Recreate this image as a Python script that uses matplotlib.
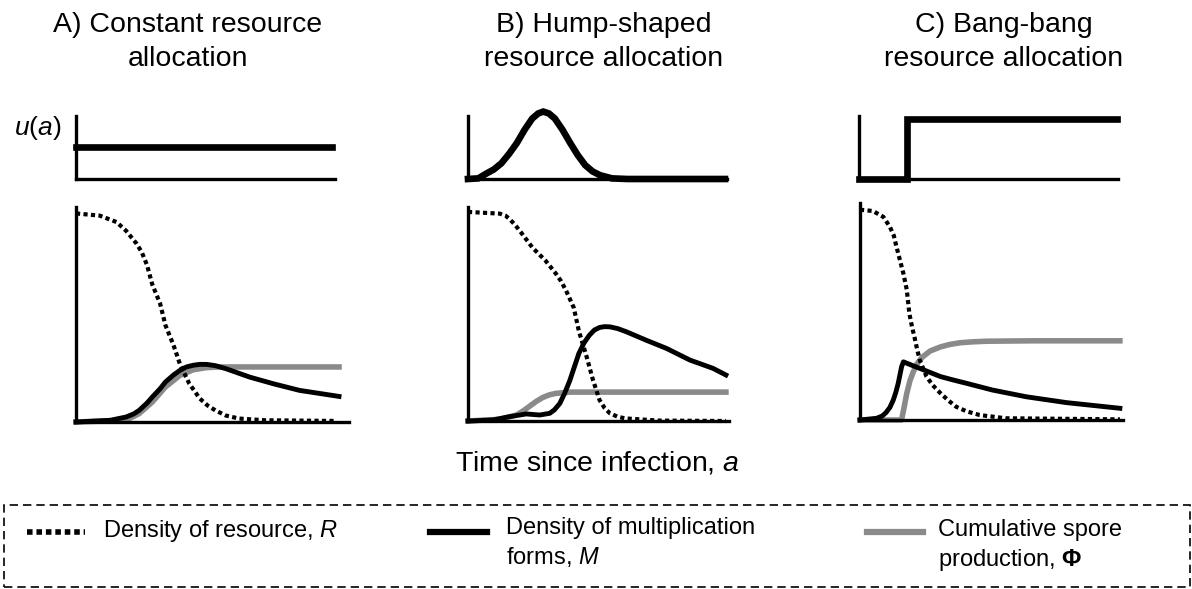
import matplotlib
matplotlib.use('Agg')
import matplotlib.pyplot as plt
from matplotlib.patches import Rectangle
from matplotlib.lines import Line2D

plt.rcParams['font.family'] = ['Liberation Sans', 'DejaVu Sans']
plt.rcParams['mathtext.fontset'] = 'custom'
plt.rcParams['mathtext.rm'] = 'Liberation Sans'
plt.rcParams['mathtext.it'] = 'Liberation Sans:italic'
plt.rcParams['mathtext.bf'] = 'Liberation Sans:bold'

W, H = 1192, 589

titles = ['A) Constant resource\nallocation',
          'B) Hump-shaped\nresource allocation',
          'C) Bang-bang\nresource allocation']

# resource allocation u(a), time in % of the horizon
ua_t_A = [0, 100]
ua_A = [0.51, 0.51]

ua_t_B = [0, 4, 7.3, 10, 13, 16, 19, 22, 25, 27.3, 29.3, 31.5, 33.8, 36.8, 39.8, 42.7, 45.6, 48.5, 51.4, 56, 62, 100]
ua_B = [0, 0.01, 0.09, 0.15, 0.25, 0.40, 0.57, 0.78, 0.96, 1.04, 1.07, 1.04, 0.96, 0.78, 0.57, 0.38, 0.22, 0.12, 0.06, 0.01, 0, 0]

ua_t_C = [0, 18.6, 18.6, 100]
ua_C = [0, 0, 0.95, 0.95]

# panel A: resource R, multiplication forms M, cumulative spores Phi
tR_A = [0, 9, 15.4, 19, 23, 25, 27, 29, 32, 34, 37, 39.5, 43, 47, 50, 53, 57, 62, 72, 98]
R_A = [0.97, 0.96, 0.93, 0.89, 0.83, 0.79, 0.73, 0.64, 0.55, 0.45, 0.36, 0.27, 0.18, 0.11, 0.077, 0.054, 0.03, 0.016, 0.008, 0.005]
tM_A = [0, 13, 19, 22, 24, 27, 29, 32, 34, 37, 39.5, 42, 44.6, 47, 49.6, 53, 57, 66, 75, 85, 100]
M_A = [0, 0.008, 0.023, 0.038, 0.054, 0.088, 0.116, 0.155, 0.186, 0.218, 0.24, 0.256, 0.264, 0.268, 0.268, 0.262, 0.248, 0.209, 0.178, 0.147, 0.119]
tP_A = [0, 19, 24, 29, 34, 39.5, 44.6, 49.6, 55, 60, 100]
P_A = [0, 0.008, 0.039, 0.093, 0.163, 0.217, 0.243, 0.253, 0.256, 0.256, 0.256]

# panel B
tR_B = [0, 12.3, 14.5, 16, 18, 20, 25, 30, 34, 36, 38, 41, 43, 46, 48.5, 51, 53, 55, 58, 61, 74, 100]
R_B = [0.977, 0.969, 0.96, 0.945, 0.92, 0.89, 0.81, 0.75, 0.69, 0.655, 0.61, 0.53, 0.42, 0.30, 0.19, 0.098, 0.06, 0.036, 0.02, 0.012, 0.002, 0]
tM_B = [0, 9.7, 16, 22.6, 27.8, 31.7, 33.5, 35.6, 37.5, 39.5, 41.3, 43, 45, 47, 49, 51, 53, 55, 58, 61.4, 69, 77, 86, 95, 100]
M_B = [0, 0.005, 0.02, 0.033, 0.028, 0.036, 0.052, 0.082, 0.13, 0.19, 0.255, 0.316, 0.365, 0.40, 0.425, 0.437, 0.441, 0.44, 0.432, 0.417, 0.378, 0.339, 0.285, 0.246, 0.215]
tP_B = [0, 12.3, 18.8, 21.5, 24, 26.5, 29, 31.5, 34, 39.5, 51, 100]
P_B = [0, 0.008, 0.028, 0.048, 0.07, 0.092, 0.11, 0.122, 0.129, 0.135, 0.135, 0.135]

# panel C
tR_C = [0, 5, 9, 11.5, 13, 14, 15.3, 16.7, 18, 19, 20, 21, 22, 23, 25.6, 28, 31, 34, 37, 41, 46, 56, 100]
R_C = [0.969, 0.963, 0.936, 0.89, 0.85, 0.80, 0.74, 0.675, 0.60, 0.49, 0.43, 0.38, 0.325, 0.276, 0.20, 0.16, 0.123, 0.09, 0.061, 0.04, 0.023, 0.008, 0.003]
tM_C = [0, 6.4, 8.5, 10, 11.5, 12.8, 13.8, 14.7, 16, 16.7, 20, 23, 27, 31, 36, 41, 51, 64, 79.5, 100]
M_C = [0, 0.008, 0.018, 0.034, 0.058, 0.092, 0.128, 0.169, 0.245, 0.268, 0.252, 0.238, 0.219, 0.20, 0.184, 0.169, 0.138, 0.107, 0.08, 0.054]
tP_C = [0, 16, 17, 18, 19.2, 20.5, 22, 24, 27, 31, 34.5, 38.5, 43, 48.7, 66.7, 100]
P_C = [0, 0, 0.06, 0.123, 0.18, 0.222, 0.26, 0.29, 0.318, 0.337, 0.348, 0.356, 0.36, 0.363, 0.365, 0.365]

legend_labels = ['Density of resource, $R$',
                 'Density of multiplication\nforms, $M$',
                 'Cumulative spore\nproduction, $\\mathbf{\\Phi}$']

grey = '#8a8a8a'
dot = (0, (1, 0.8))


def px_rect(x0, y0, x1, y1):
    return [x0 / W, 1 - y1 / H, (x1 - x0) / W, (y1 - y0) / H]


def clean(ax, xmax):
    ax.set_xlim(0, xmax)
    ax.set_ylim(0, 1)
    for s in ['top', 'right']:
        ax.spines[s].set_visible(False)
    for s in ['left', 'bottom']:
        ax.spines[s].set_linewidth(2.4)
    ax.set_xticks([])
    ax.set_yticks([])
    ax.patch.set_alpha(0)


fig = plt.figure(figsize=(W / 100, H / 100), dpi=100)

top_boxes = [(76, 116, 335, 179), (468, 116, 727, 179), (859, 116, 1118, 179)]
top_xmax = [101.2, 100.8, 100.4]
top_data = [(ua_t_A, ua_A), (ua_t_B, ua_B), (ua_t_C, ua_C)]

bot_boxes = [(76, 207, 349, 422), (468, 207, 729, 421), (860, 203, 1123, 420)]
bot_xmax = [103.8, 101.2, 101.2]
bot_data = [(tR_A, R_A, tM_A, M_A, tP_A, P_A),
            (tR_B, R_B, tM_B, M_B, tP_B, P_B),
            (tR_C, R_C, tM_C, M_C, tP_C, P_C)]

title_x = [188, 604, 1004]

for i in range(3):
    ax = fig.add_axes(px_rect(*top_boxes[i]))
    clean(ax, top_xmax[i])
    ax.plot(top_data[i][0], top_data[i][1], color='black', lw=4.8,
            clip_on=False, solid_joinstyle='miter')

    ax2 = fig.add_axes(px_rect(*bot_boxes[i]))
    clean(ax2, bot_xmax[i])
    tR, R, tM, M, tP, P = bot_data[i]
    ax2.plot(tP, P, color=grey, lw=4.0, clip_on=False, zorder=2)
    ax2.plot(tM, M, color='black', lw=3.5, clip_on=False, zorder=3)
    ax2.plot(tR, R, color='black', lw=3.0, linestyle=dot, clip_on=False, zorder=4)

    fig.text(title_x[i] / W, 1 - 12 / H, titles[i], ha='center', va='top',
             fontsize=20.5, linespacing=1.4)

fig.text(37.5 / W, 1 - 128.5 / H, '$u$($a$)', ha='center', va='center', fontsize=19)
fig.text(597 / W, 1 - 470 / H, 'Time since infection, $a$', ha='center',
         va='baseline', fontsize=20.5)

# legend box
fig.patches.append(Rectangle((4 / W, 1 - 587 / H), 1186 / W, 82 / H,
                             transform=fig.transFigure, fill=False,
                             edgecolor='black', lw=1.2, linestyle=(0, (5, 3))))

key_x = [(27, 85), (430, 487), (867, 923)]
key_style = [dict(color='black', lw=4.0, linestyle=(0, (1, 0.7))),
             dict(color='black', lw=4.5),
             dict(color=grey, lw=4.5)]
text_x = [103, 506, 938]
text_y = [531, 543, 546]
for i in range(3):
    x0, x1 = key_x[i]
    fig.add_artist(Line2D([x0 / W, x1 / W], [1 - 532 / H, 1 - 532 / H],
                          transform=fig.transFigure, **key_style[i]))
    fig.text(text_x[i] / W, 1 - text_y[i] / H, legend_labels[i], ha='left',
             va='center', fontsize=17, linespacing=1.35)

fig.savefig('out.png', dpi=100)
